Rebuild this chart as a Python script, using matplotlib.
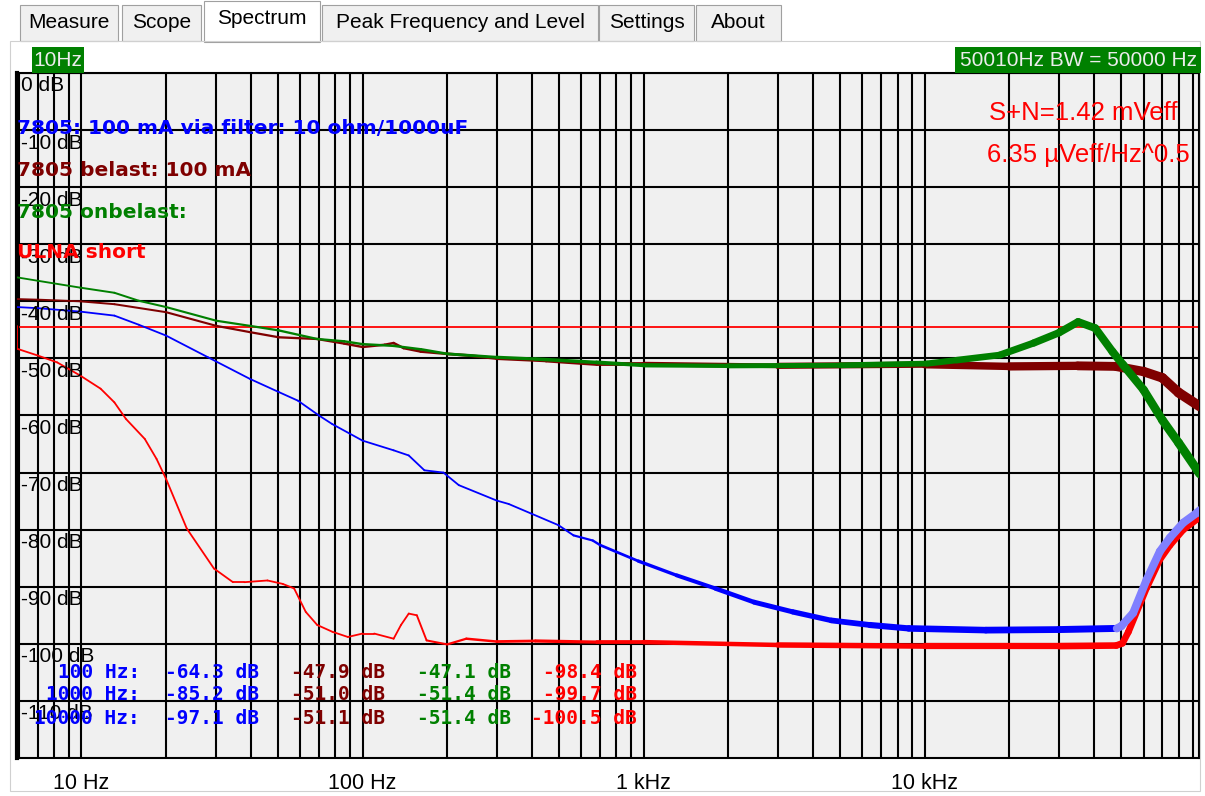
import numpy as np
import matplotlib.pyplot as plt
from matplotlib.collections import LineCollection
from matplotlib.patches import Rectangle
from matplotlib.ticker import LogLocator, NullFormatter

W, H = 1205, 796

# spectra: frequency (Hz) and level (dB)
filt_f = [5.9, 7, 9.9, 13.1, 16, 20, 28.2, 39.8, 50.4, 58.9, 70, 78, 100, 129, 146, 166,
          194, 220, 300, 331, 399, 497, 563, 659, 700, 957, 1310, 1800, 2470, 3390, 4650,
          6380, 8770, 16500, 30000, 48200]
filt_db = [-41.0, -41.2, -41.8, -42.5, -44.1, -46.0, -49.8, -53.6, -55.9, -57.4, -60.0,
           -61.5, -64.4, -66.1, -67.0, -69.6, -70.0, -72.2, -74.9, -75.5, -77.2, -79.2,
           -81.0, -81.9, -82.7, -85.5, -88.0, -90.3, -92.7, -94.4, -95.9, -96.7, -97.3,
           -97.6, -97.5, -97.3]

filt_hi_f = [48200, 50000, 55100, 61500, 68600, 74500, 83000, 92600, 95000]
filt_hi_db = [-97.3, -96.9, -94.6, -88.8, -83.8, -81.4, -78.8, -77.1, -76.6]

load_f = [5.9, 7, 9.9, 13.1, 20, 30.2, 39.8, 50.4, 69, 86, 100, 120, 129, 140, 161, 200,
          240, 300, 450, 680, 1000, 3000, 10000, 20000, 35000, 48000, 60000, 70000, 80000,
          95000]
load_db = [-39.6, -39.7, -40.0, -40.5, -41.9, -44.3, -45.4, -46.3, -46.6, -47.4, -48.0,
           -47.6, -47.3, -48.2, -48.8, -49.2, -49.5, -50.0, -50.4, -51.0, -51.0, -51.3,
           -51.1, -51.4, -51.3, -51.4, -52.3, -53.4, -56.0, -58.4]

noload_f = [5.9, 7, 9.9, 13.1, 16, 20, 30.2, 39.8, 50.4, 69, 86, 100, 129, 161, 200, 300,
            412, 680, 1000, 2000, 5000, 10200, 13000, 18500, 24400, 30000, 35100, 40400,
            46500, 50700, 60000, 70000, 80000, 93000, 95000]
noload_db = [-35.8, -36.4, -37.6, -38.5, -39.9, -41.0, -43.4, -44.3, -45.1, -46.6, -47.0,
             -47.5, -47.8, -48.4, -49.2, -49.8, -50.1, -50.7, -51.2, -51.3, -51.2, -50.9,
             -50.3, -49.4, -47.3, -45.5, -43.6, -44.7, -48.8, -51.1, -55.5, -60.8, -64.8,
             -69.5, -70.2]

short_f = [5.9, 5.9, 7, 8.2, 9.9, 11.7, 13.1, 14.4, 16.8, 18.5, 20, 23.7, 29.6, 34.6, 38,
           45.9, 52, 57.1, 62.8, 69, 78.2, 88.7, 100, 110, 129, 137, 146, 156, 169, 200,
           234, 300, 412, 680, 1000, 3000, 10000, 30000, 48000, 50500, 53000, 61500, 68600,
           74500, 83000, 92600, 95000]
short_db = [-44.4, -48.3, -49.5, -50.7, -53.0, -55.3, -57.7, -60.6, -64.1, -67.6, -71.1,
            -79.8, -86.8, -89.2, -89.2, -88.9, -89.5, -90.3, -94.4, -96.7, -97.9, -98.8,
            -98.2, -98.2, -99.1, -96.7, -94.7, -95.0, -99.4, -100.1, -99.1, -99.6, -99.5,
            -99.7, -99.7, -100.2, -100.4, -100.4, -100.3, -99.9, -97.9, -90.2, -85.2,
            -82.7, -80.0, -78.2, -77.8]

level_line_db = -44.5

legend_texts = ['7805: 100 mA via filter: 10 ohm/1000uF', '7805 belast: 100 mA',
                '7805 onbelast:', 'ULNA short']
readout_labels = ['100 Hz:', '1000 Hz:', '10000 Hz:']
readout_filt = [-64.3, -85.2, -97.1]
readout_load = [-47.9, -51.0, -51.1]
readout_noload = [-47.1, -51.4, -51.4]
readout_short = [-98.4, -99.7, -100.5]

db_ticks = list(range(0, -120, -10))
freq_ticks = [10, 100, 1000, 10000]
freq_labels = ['10 Hz', '100 Hz', '1 kHz', '10 kHz']
tabs = ['Measure', 'Scope', 'Spectrum', 'Peak Frequency and Level', 'Settings', 'About']

BLUE, MAROON, GREEN, RED, LBLUE = '#0000ff', '#7f0000', '#008000', '#ff0000', '#8080ff'


def fx(x):
    return x / W


def fy(y):
    return 1 - y / H


def trace(ax, f, db, color, prof_f, prof_px, z):
    # noisy FFT traces get wider toward high frequency
    pts = np.column_stack([f, db])
    segs = np.stack([pts[:-1], pts[1:]], axis=1)
    mid = np.sqrt(np.array(f[:-1]) * np.array(f[1:]))
    w = np.interp(np.log10(mid), np.log10(prof_f), prof_px) * 0.72
    lc = LineCollection(segs, colors=color, linewidths=w, capstyle='round',
                        joinstyle='round', zorder=z)
    ax.add_collection(lc)


fig = plt.figure(figsize=(W / 100, H / 100), dpi=100)
fig.patch.set_facecolor('white')

# tab strip
tab_x = [(20, 118), (122, 201), (204, 320), (322, 598), (599, 694), (696, 781)]
for name, (x0, x1) in zip(tabs, tab_x):
    sel = name == 'Spectrum'
    y0, y1 = (1, 42) if sel else (5, 41)
    fig.patches.append(Rectangle((fx(x0), fy(y1)), fx(x1 - x0), (y1 - y0) / H,
                                 transform=fig.transFigure, facecolor='white' if sel else '#f0f0f0',
                                 edgecolor='#a0a0a0', linewidth=0.8))
    fig.text(fx((x0 + x1) / 2), fy(19 if sel else 23), name, ha='center', va='center',
             fontsize=15, family='Liberation Sans', color='black')

# page border
fig.patches.append(Rectangle((fx(10), fy(791)), fx(1200 - 10), 750 / H,
                             transform=fig.transFigure, facecolor='none',
                             edgecolor='#d0d0d0', linewidth=0.8))

ax = fig.add_axes([fx(17), fy(758), fx(1199 - 17), (758 - 73) / H])
ax.set_facecolor('#f0f0f0')
ax.set_xscale('log')
ax.set_xlim(5.9, 94500)
ax.set_ylim(-120, 0)

ax.xaxis.set_major_locator(LogLocator(base=10, numticks=10))
ax.xaxis.set_minor_locator(LogLocator(base=10, subs=range(2, 10), numticks=40))
ax.xaxis.set_minor_formatter(NullFormatter())
ax.set_xticks(freq_ticks)
ax.set_xticklabels(freq_labels, fontsize=15.5, family='Liberation Sans')
ax.set_yticks(db_ticks)
ax.set_yticklabels([])
ax.tick_params(which='both', length=0)
ax.tick_params(axis='x', pad=11)
ax.grid(which='both', axis='x', color='black', linewidth=1.5)
ax.grid(which='major', axis='y', color='black', linewidth=1.5)
ax.set_axisbelow(True)
for s in ax.spines.values():
    s.set_color('black')
    s.set_linewidth(1.5)
ax.spines['left'].set_linewidth(3)

for d in db_ticks:
    ax.text(0.003, d - 0.6, f'{d} dB', transform=ax.get_yaxis_transform(), ha='left',
            va='top', fontsize=15, family='Liberation Sans', color='black', zorder=6)

ax.axhline(level_line_db, color=RED, linewidth=1.3, zorder=2)

trace(ax, load_f, load_db, MAROON, [6, 150, 1000, 10000, 95000], [1.8, 2.5, 4, 7, 10], 3)
trace(ax, noload_f, noload_db, GREEN, [6, 150, 1000, 10000, 95000], [1.8, 2.5, 4, 6, 9], 4)
trace(ax, short_f, short_db, RED, [6, 150, 1000, 10000, 95000], [1.8, 1.8, 4, 6, 7], 5)
trace(ax, filt_f, filt_db, BLUE, [6, 500, 2000, 10000, 50000], [1.8, 1.8, 4.5, 6.5, 7], 5)
trace(ax, filt_hi_f, filt_hi_db, LBLUE, [48000, 95000], [8, 8], 5)

# trace names
for txt, col, y in zip(legend_texts, [BLUE, MAROON, GREEN, RED], [129, 171, 212, 253]):
    fig.text(fx(17), fy(y), txt, color=col, fontsize=14.5, fontweight='bold',
             family='DejaVu Sans', ha='left', va='center', zorder=7)

fig.text(fx(1178), fy(113), 'S+N=1.42 mVeff', color=RED, fontsize=18.5,
         family='Liberation Sans', ha='right', va='center')
fig.text(fx(1190), fy(155), '6.35 µVeff/Hz^0.5', color=RED, fontsize=18.5,
         family='Liberation Sans', ha='right', va='center')

# green frequency boxes
for x0, x1, txt in [(32, 84, '10Hz'), (955, 1201, '50010Hz BW = 50000 Hz')]:
    fig.patches.append(Rectangle((fx(x0), fy(73)), fx(x1 - x0), 26 / H,
                                 transform=fig.transFigure, facecolor=GREEN,
                                 edgecolor='none'))
    fig.text(fx((x0 + x1) / 2), fy(60), txt, color='#ececec', fontsize=15,
             family='Liberation Sans', ha='center', va='center')

# level readout table
for i, lab in enumerate(readout_labels):
    y = fy(672 + 23 * i)
    fig.text(fx(140), y, lab, color=BLUE, ha='right', va='center', fontsize=14,
             family='DejaVu Sans Mono', fontweight='bold')
    for vals, col, xr in [(readout_filt, BLUE, 259), (readout_load, MAROON, 385),
                          (readout_noload, GREEN, 511), (readout_short, RED, 637)]:
        fig.text(fx(xr), y, f'{vals[i]:.1f} dB', color=col, ha='right', va='center',
                 fontsize=14, family='DejaVu Sans Mono', fontweight='bold')

fig.savefig('out.png', dpi=100)
